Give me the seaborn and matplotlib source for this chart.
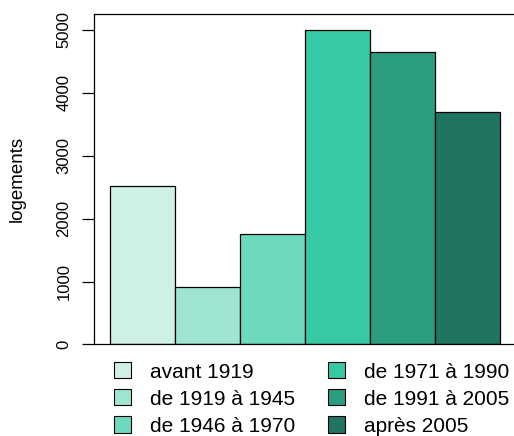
import matplotlib
matplotlib.use("Agg")
import matplotlib.pyplot as plt
from matplotlib.patches import Patch
import seaborn as sns
import pandas as pd

# Data
periodes = ["avant 1919", "de 1919 à 1945", "de 1946 à 1970",
            "de 1971 à 1990", "de 1991 à 2005", "après 2005"]
logements = [2513, 921, 1762, 5005, 4656, 3693]
couleurs = ["#CFF0E6", "#9FE5D2", "#6DD9BF", "#37C9A5", "#2B9E82", "#1F7562"]
yticks = [0, 1000, 2000, 3000, 4000, 5000]

sns.set_style("white")
plt.rcParams["font.family"] = ["Liberation Sans", "DejaVu Sans"]
plt.rcParams["text.color"] = "black"
plt.rcParams["ytick.color"] = "black"
plt.rcParams["axes.labelcolor"] = "black"

df = pd.DataFrame({"periode": periodes, "logements": logements})

fig = plt.figure(figsize=(5.14, 4.36), dpi=100)
ax = fig.add_axes([0.1838, 0.2099, 0.8192, 0.758])

sns.barplot(data=df, x="periode", y="logements", hue="periode",
            palette=couleurs, saturation=1, width=1, edgecolor="black",
            linewidth=0.9, legend=False, ax=ax)

ax.set_xlim(-0.74, 5.74)
ax.set_ylim(0, 5254)
ax.set_xticks([])
ax.set_xlabel("")
ax.set_yticks(yticks)
ax.set_yticklabels([str(v) for v in yticks], rotation=90, va="center", fontsize=12)
ax.tick_params(axis="y", length=8.6, width=0.9, pad=8, color="black", left=True)
ax.set_ylabel("logements", fontsize=13.5)
ax.yaxis.set_label_coords(-0.163, 0.5)

for s in ax.spines.values():
    s.set_color("black")
    s.set_linewidth(0.9)

handles = [Patch(facecolor=c, edgecolor="black", linewidth=0.8, label=p)
           for c, p in zip(couleurs, periodes)]
fig.legend(handles=handles, ncol=2, frameon=False, fontsize=15,
           loc="center", bbox_to_anchor=(0.606, 0.085),
           handlelength=0.82, handleheight=0.82, handletextpad=0.91,
           columnspacing=1.55, labelspacing=0.37, borderpad=0)

fig.savefig("out.png", dpi=100)
